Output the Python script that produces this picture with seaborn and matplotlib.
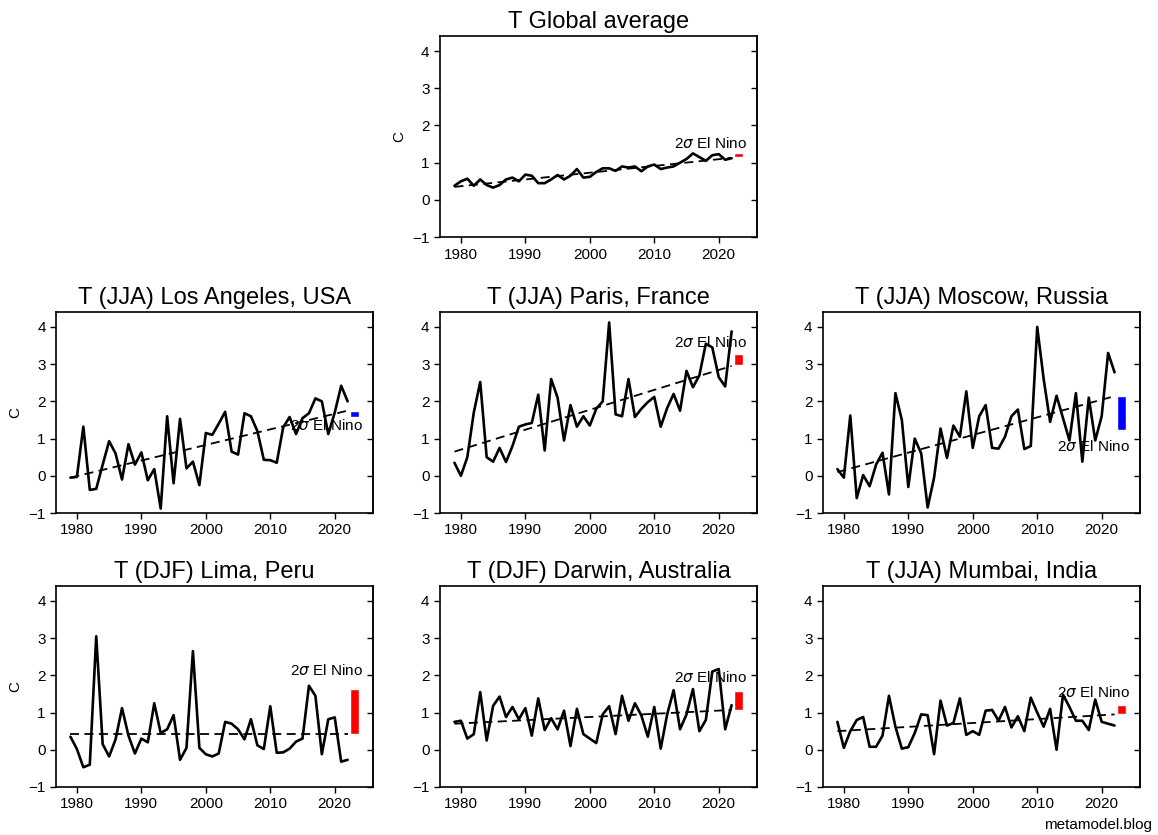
import matplotlib
matplotlib.use('Agg')
import matplotlib.pyplot as plt
import seaborn as sns

sns.set_style('ticks')
plt.rcParams['font.family'] = ['Liberation Sans', 'DejaVu Sans']
plt.rcParams.update({'text.color': 'k', 'axes.labelcolor': 'k',
                     'xtick.color': 'k', 'ytick.color': 'k'})

years = list(range(1979, 2023))

titles = [
    'T Global average',
    'T (JJA) Los Angeles, USA',
    'T (JJA) Paris, France',
    'T (JJA) Moscow, Russia',
    'T (DJF) Lima, Peru',
    'T (DJF) Darwin, Australia',
    'T (JJA) Mumbai, India',
]

t_global = [0.38, 0.50, 0.57, 0.38, 0.55, 0.40, 0.33, 0.40, 0.55, 0.60,
            0.50, 0.68, 0.65, 0.45, 0.45, 0.55, 0.67, 0.55, 0.65, 0.83,
            0.60, 0.62, 0.75, 0.85, 0.85, 0.78, 0.90, 0.87, 0.90, 0.77,
            0.90, 0.95, 0.83, 0.87, 0.90, 1.00, 1.10, 1.25, 1.15, 1.05,
            1.20, 1.23, 1.08, 1.12]
t_la = [-0.05, -0.03, 1.32, -0.38, -0.35, 0.30, 0.93, 0.60, -0.10, 0.85,
        0.30, 0.63, -0.12, 0.18, -0.88, 1.60, -0.20, 1.53, 0.20, 0.38,
        -0.25, 1.15, 1.10, 1.40, 1.72, 0.65, 0.57, 1.68, 1.60, 1.20,
        0.43, 0.42, 0.35, 1.30, 1.58, 1.12, 1.55, 1.68, 2.08, 2.00,
        1.12, 1.70, 2.42, 2.00]
t_paris = [0.35, 0.00, 0.50, 1.70, 2.52, 0.50, 0.38, 0.75, 0.37, 0.80,
           1.32, 1.38, 1.42, 2.18, 0.68, 2.60, 2.10, 0.95, 1.90, 1.32,
           1.60, 1.35, 1.80, 2.00, 4.12, 1.65, 1.60, 2.60, 1.58, 1.80,
           1.98, 2.12, 1.32, 1.82, 2.20, 1.75, 2.82, 2.38, 2.70, 3.55,
           3.45, 2.65, 2.40, 3.88]
t_moscow = [0.18, -0.05, 1.62, -0.60, 0.02, -0.28, 0.30, 0.62, -0.50, 2.22,
            1.50, -0.30, 1.00, 0.60, -0.85, -0.05, 1.27, 0.48, 1.35, 1.05,
            2.27, 0.75, 1.60, 1.90, 0.75, 0.73, 1.05, 1.60, 1.78, 0.72,
            0.80, 4.00, 2.60, 1.45, 2.15, 1.55, 0.95, 2.22, 0.38, 2.10,
            0.95, 1.60, 3.30, 2.78]
t_lima = [0.35, 0.02, -0.47, -0.40, 3.05, 0.15, -0.18, 0.28, 1.12, 0.38,
          -0.10, 0.30, 0.20, 1.25, 0.45, 0.55, 0.93, -0.27, 0.05, 2.65,
          0.05, -0.12, -0.18, -0.10, 0.75, 0.70, 0.55, 0.28, 0.82, 0.12,
          0.02, 1.17, -0.08, -0.07, 0.03, 0.22, 0.30, 1.72, 1.45, -0.12,
          0.82, 0.87, -0.32, -0.27]
t_darwin = [0.75, 0.78, 0.30, 0.42, 1.55, 0.25, 1.18, 1.43, 0.88, 1.15,
            0.82, 1.12, 0.38, 1.38, 0.53, 0.85, 0.55, 1.05, 0.10, 1.10,
            0.42, 0.30, 0.18, 0.95, 1.17, 0.42, 1.45, 0.78, 1.25, 0.92,
            0.35, 1.15, 0.03, 0.95, 1.60, 0.55, 0.95, 1.63, 0.50, 0.80,
            2.10, 2.17, 0.55, 1.20]
t_mumbai = [0.75, 0.05, 0.50, 0.80, 0.88, 0.08, 0.08, 0.38, 1.45, 0.62,
            0.03, 0.07, 0.45, 0.95, 0.93, -0.12, 1.32, 0.65, 0.72, 1.38,
            0.40, 0.50, 0.40, 1.05, 1.07, 0.78, 1.15, 0.60, 0.90, 0.50,
            1.40, 1.00, 0.62, 1.10, 0.00, 1.48, 1.15, 0.78, 0.78, 0.53,
            1.35, 0.75, 0.70, 0.65]
series = [t_global, t_la, t_paris, t_moscow, t_lima, t_darwin, t_mumbai]

# linear trend, value at 1979 and at 2022
trend_start = [0.35, -0.05, 0.65, 0.10, 0.43, 0.70, 0.50]
trend_end = [1.13, 1.75, 2.95, 2.14, 0.43, 1.07, 0.95]

# 2 sigma El Nino effect, drawn at 2023
nino_lo = [1.15, 1.59, 2.97, 1.22, 0.43, 1.08, 0.95]
nino_hi = [1.25, 1.75, 3.26, 2.15, 1.62, 1.59, 1.20]
nino_warm = [True, False, True, False, True, True, True]
label_y = [1.32, 1.55, 3.38, 0.98, 1.92, 1.75, 1.33]

fig = plt.figure(figsize=(11.58, 8.35), dpi=100)
w, h = 0.2737, 0.2407
cols = [0.0484, 0.380, 0.7107]
rows = [0.716, 0.3856, 0.0575]
slots = [(1, 0), (0, 1), (1, 1), (2, 1), (0, 2), (1, 2), (2, 2)]

for i, (c, r) in enumerate(slots):
    ax = fig.add_axes([cols[c], rows[r], w, h])
    sns.lineplot(x=years, y=series[i], color='k', lw=1.9, ax=ax)
    sns.lineplot(x=[1979, 2022], y=[trend_start[i], trend_end[i]],
                 color='k', lw=1.3, ls=(0, (5, 3)), ax=ax)
    ax.bar(2023, nino_hi[i] - nino_lo[i], bottom=nino_lo[i], width=1.4,
           color='red' if nino_warm[i] else 'blue')
    ax.text(2024.4, label_y[i], r'2$\sigma$ El Nino', ha='right',
            va='bottom' if nino_warm[i] else 'top', fontsize=11)

    ax.set_ylim(-1, 4.4)
    ax.set_yticks(range(-1, 5))
    ax.set_xticks([1980, 1990, 2000, 2010, 2020])
    ax.set_title(titles[i], fontsize=17)
    ax.tick_params(labelsize=11, direction='out', width=1, length=4)
    for s in ax.spines.values():
        s.set_linewidth(1.2)
        s.set_color('k')
    right = ax.secondary_yaxis('right')
    right.set_yticks(range(-1, 5))
    right.tick_params(direction='in', labelright=False, width=1, length=4)
    right.spines['right'].set_linewidth(1.2)
    if c == 0 or r == 0:
        ax.set_ylabel('C', fontsize=11)
    else:
        ax.set_ylabel('')

fig.text(0.995, 0.004, 'metamodel.blog', ha='right', va='bottom', fontsize=11)
fig.savefig('out.png', dpi=100)
